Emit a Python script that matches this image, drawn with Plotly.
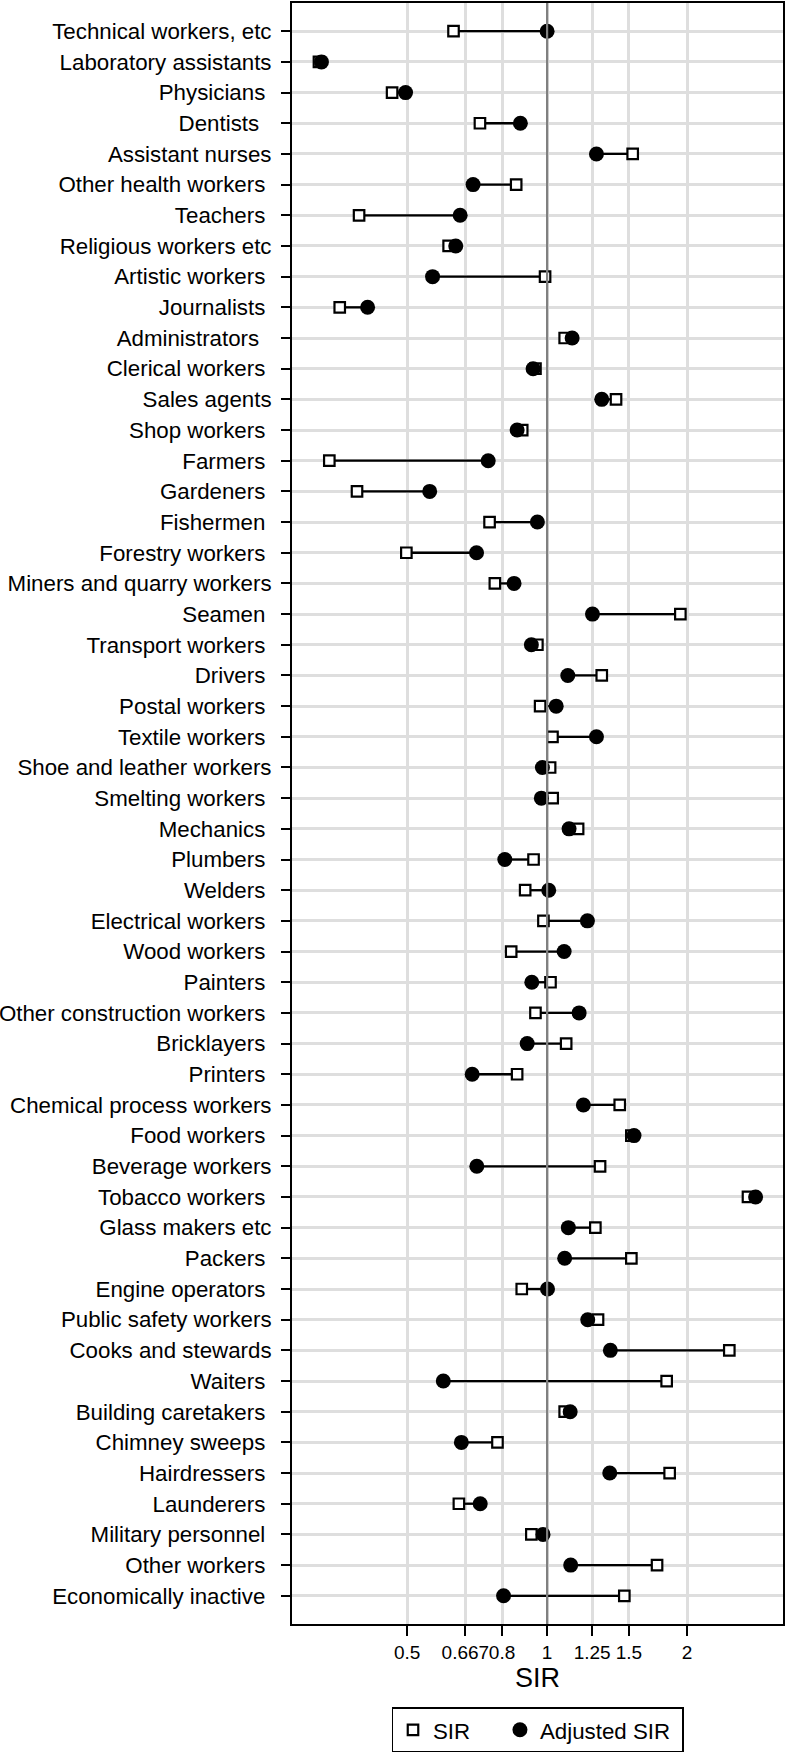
import plotly.graph_objects as go

NB = "\u00a0"

occupations = [
    "Technical workers, etc", "Laboratory assistants", "Physicians" + NB, "Dentists" + NB + NB,
    "Assistant nurses", "Other health workers" + NB, "Teachers" + NB, "Religious workers etc",
    "Artistic workers" + NB, "Journalists" + NB, "Administrators" + NB + NB, "Clerical workers" + NB,
    "Sales agents", "Shop workers" + NB, "Farmers" + NB, "Gardeners" + NB, "Fishermen" + NB,
    "Forestry workers" + NB, "Miners and quarry workers", "Seamen" + NB, "Transport workers" + NB,
    "Drivers" + NB, "Postal workers" + NB, "Textile workers" + NB, "Shoe and leather workers",
    "Smelting workers" + NB, "Mechanics" + NB, "Plumbers" + NB, "Welders" + NB,
    "Electrical workers" + NB, "Wood workers" + NB, "Painters" + NB, "Other construction workers" + NB,
    "Bricklayers" + NB, "Printers" + NB, "Chemical process workers", "Food workers" + NB,
    "Beverage workers", "Tobacco workers" + NB, "Glass makers etc", "Packers" + NB,
    "Engine operators" + NB, "Public safety workers", "Cooks and stewards", "Waiters" + NB,
    "Building caretakers" + NB, "Chimney sweeps" + NB, "Hairdressers" + NB, "Launderers" + NB,
    "Military personnel" + NB, "Other workers" + NB, "Economically inactive" + NB,
]

sir = [
    0.629, 0.323, 0.464, 0.717, 1.528, 0.858, 0.394, 0.614, 0.990, 0.358,
    1.091, 0.944, 1.407, 0.884, 0.340, 0.390, 0.752, 0.498, 0.772, 1.935,
    0.953, 1.311, 0.966, 1.027, 1.015, 1.028, 1.166, 0.935, 0.897, 0.982,
    0.837, 1.017, 0.944, 1.099, 0.862, 1.433, 1.518, 1.300, 2.705, 1.270,
    1.518, 0.882, 1.287, 2.466, 1.808, 1.091, 0.782, 1.835, 0.646, 0.925,
    1.724, 1.466,
]

adj_sir = [
    1.000, 0.327, 0.496, 0.876, 1.277, 0.693, 0.650, 0.636, 0.567, 0.411,
    1.132, 0.933, 1.311, 0.862, 0.747, 0.559, 0.953, 0.705, 0.849, 1.252,
    0.925, 1.108, 1.046, 1.277, 0.977, 0.972, 1.115, 0.811, 1.008, 1.221,
    1.088, 0.927, 1.172, 0.906, 0.690, 1.197, 1.538, 0.706, 2.809, 1.111,
    1.091, 1.002, 1.223, 1.368, 0.598, 1.121, 0.654, 1.364, 0.718, 0.980,
    1.124, 0.806,
]

tick_vals = [0.5, 0.667, 0.8, 1, 1.25, 1.5, 2]
tick_text = ["0.5", "0.667", "0.8", "1", "1.25", "1.5", "2"]
reference_sir = 1

FONT = "Liberation Sans, Arial, sans-serif"

# connecting segments
seg_x, seg_y = [], []
for occ, a, b in zip(occupations, sir, adj_sir):
    seg_x += [a, b, None]
    seg_y += [occ, occ, None]

fig = go.Figure()
# reference line at SIR = 1 spanning the full category range
fig.add_trace(go.Scatter(
    x=[reference_sir, reference_sir], y=[0, 1], yaxis="y2", mode="lines",
    line=dict(color="#808080", width=2.2), showlegend=False, hoverinfo="skip",
))
fig.add_trace(go.Scatter(
    x=seg_x, y=seg_y, mode="lines",
    line=dict(color="black", width=2.3), showlegend=False, hoverinfo="skip",
))
fig.add_trace(go.Scatter(
    x=sir, y=occupations, mode="markers", name="SIR" + NB * 4,
    marker=dict(symbol="square", size=10.5, color="white",
                line=dict(color="black", width=2.2)),
))
fig.add_trace(go.Scatter(
    x=adj_sir, y=occupations, mode="markers", name="Adjusted SIR" + NB,
    marker=dict(symbol="circle", size=15, color="black",
                line=dict(color="black", width=0)),
))

fig.update_xaxes(
    type="log", range=[-0.5488, 0.5075],
    tickvals=tick_vals, ticktext=tick_text, tickangle=0,
    ticks="outside", ticklen=10, tickwidth=1.5, tickcolor="black",
    tickfont=dict(size=19, color="black", family=FONT),
    showgrid=True, gridcolor="#dedede", gridwidth=3.2,
    showline=True, linecolor="black", linewidth=2, mirror=True,
    zeroline=False,
    title=dict(text="SIR", font=dict(size=27, color="black", family=FONT), standoff=3),
)
fig.update_yaxes(
    type="category", categoryorder="array", categoryarray=occupations,
    range=[51.92, -0.92],
    ticks="outside", ticklen=9, tickwidth=1.5, tickcolor="black",
    tickfont=dict(size=22.3, color="black", family=FONT),
    ticklabelstandoff=5,
    showgrid=True, gridcolor="#dedede", gridwidth=3.2,
    showline=True, linecolor="black", linewidth=2, mirror=True,
    zeroline=False,
)

fig.update_layout(
    width=786, height=1756,
    margin=dict(l=292, r=3, t=3, b=132, autoexpand=False),
    plot_bgcolor="white", paper_bgcolor="white",
    font=dict(family=FONT, color="black"),
    showlegend=True,
    yaxis2=dict(overlaying="y", range=[0, 1], visible=False, fixedrange=True),
    legend=dict(
        orientation="h", x=0.5, xanchor="center", y=-0.0514, yanchor="top",
        bordercolor="black", borderwidth=1.5, bgcolor="white",
        font=dict(size=22.3, color="black", family=FONT),
        itemsizing="trace",
    ),
)

fig.write_html(
    "out.html",
    config={"displayModeBar": False},
    post_script="document.body.style.margin='0';document.body.style.padding='0';",
)
